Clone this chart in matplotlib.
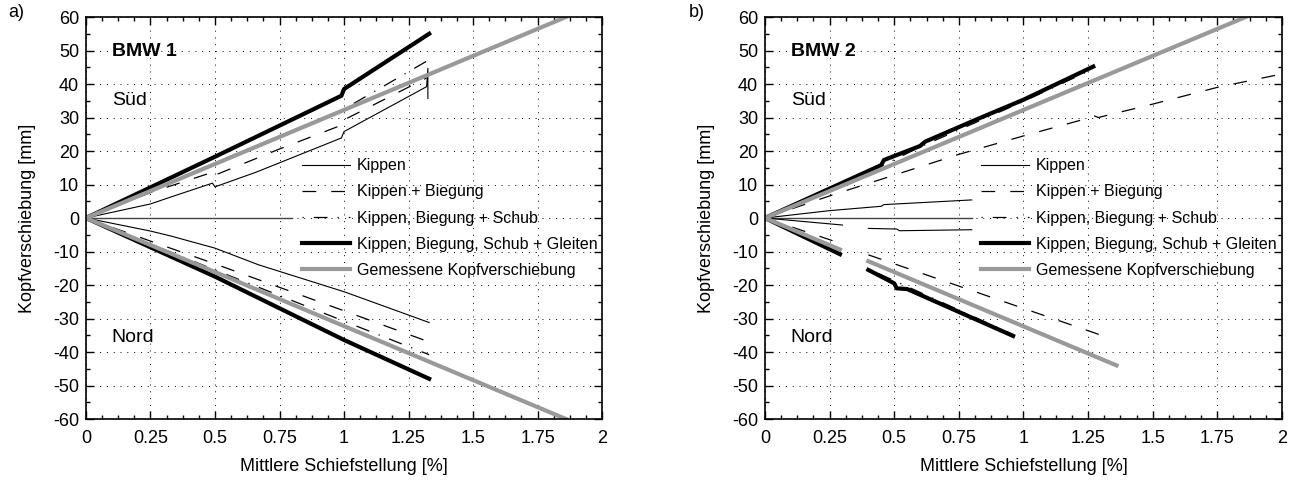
import numpy as np
import matplotlib
matplotlib.use('Agg')
import matplotlib.pyplot as plt
from matplotlib.ticker import MultipleLocator

plt.rcParams['font.family'] = ['Liberation Sans', 'DejaVu Sans']
plt.rcParams['axes.unicode_minus'] = False

nan = np.nan

# Legend labels
labels = ['Kippen', 'Kippen + Biegung', 'Kippen, Biegung + Schub',
          'Kippen, Biegung, Schub + Gleiten', 'Gemessene Kopfverschiebung']
xticks = [0, 0.25, 0.5, 0.75, 1.0, 1.25, 1.5, 1.75, 2.0]
xtick_labels = ['0', '0.25', '0.5', '0.75', '1', '1.25', '1.5', '1.75', '2']
yticks = [-60, -50, -40, -30, -20, -10, 0, 10, 20, 30, 40, 50, 60]

# ---- BMW 1 ----
kip1_sued_x = [0, 0.25, 0.33, 0.49, 0.5, 0.66, 0.99, 1.0, 1.32, 1.325, 1.325]
kip1_sued_y = [0, 4.2, 6.3, 10.4, 9.3, 13.7, 23.9, 25.8, 39.2, 44.7, 35.7]
kip1_nord_x = [0, 0.25, 0.33, 0.5, 0.67, 1.0, 1.33]
kip1_nord_y = [0, -3.9, -5.4, -9.0, -14.0, -22.0, -31.2]

bieg1_sued_x = [0, 0.25, 0.5, 0.5, 0.75, 1.0, 1.0, 1.32]
bieg1_sued_y = [0, 7.6, 13.9, 12.8, 20.6, 28.0, 29.3, 41.8]
bieg1_nord_x = [0, 0.25, 0.5, 1.0, 1.33]
bieg1_nord_y = [0, -6.9, -13.7, -27.7, -37.0]

schub1_sued_x = [0, 0.5, 1.0, 1.32]
schub1_sued_y = [0, 16.5, 32.5, 46.8]
schub1_nord_x = [0, 0.5, 1.0, 1.33]
schub1_nord_y = [0, -15.5, -30.8, -40.8]

gleit1_sued_x = [0, 0.5, 0.99, 1.0, 1.33]
gleit1_sued_y = [0, 18.3, 36.5, 38.5, 55.0]
gleit1_nord_x = [0, 0.5, 1.0, 1.33]
gleit1_nord_y = [0, -17.5, -36.4, -48.0]

mess1_sued_x = [0, 1.86]
mess1_sued_y = [0, 60]
mess1_nord_x = [0, 1.86]
mess1_nord_y = [0, -60]

# ---- BMW 2 ----
kip2_sued_x = [0, 0.25, 0.45, 0.46, 0.8]
kip2_sued_y = [0, 2.2, 3.5, 4.0, 5.4]
kip2_nord_x = [0, 0.3, nan, 0.4, 0.51, 0.52, 0.8]
kip2_nord_y = [0, -2.1, nan, -3.1, -3.3, -3.8, -3.5]

bieg2_sued_x = [0, 0.25, 0.5, 0.75, 1.0, 1.25, 1.27, 1.29, 1.5, 1.75, 2.0]
bieg2_sued_y = [0, 6.6, 12.8, 19.0, 24.5, 29.8, 30.6, 30.0, 34.0, 39.0, 43.0]
bieg2_nord_x = [0, 0.29, nan, 0.4, 1.32]
bieg2_nord_y = [0, -7.5, nan, -11.0, -35.5]

schub2_sued_x = [0, 0.45, 0.6, 1.0, 1.27]
schub2_sued_y = [0, 15.5, 21.2, 34.8, 44.5]
schub2_nord_x = [0, 0.29, nan, 0.4, 0.96]
schub2_nord_y = [0, -10.4, nan, -15.2, -34.8]

gleit2_sued_x = [0, 0.45, 0.46, 0.6, 0.62, 0.83, 1.0, 1.27]
gleit2_sued_y = [0, 15.8, 17.3, 21.5, 22.8, 29.8, 35.3, 45.2]
gleit2_nord_x = [0, 0.29, nan, 0.4, 0.5, 0.51, 0.55, 0.96]
gleit2_nord_y = [0, -10.8, nan, -15.5, -19.5, -21.0, -21.2, -35.2]

mess2_sued_x = [0, 1.86]
mess2_sued_y = [0, 60]
mess2_nord_x = [0, 0.29, nan, 0.4, 1.36]
mess2_nord_y = [0, -9.4, nan, -12.9, -44.0]

null_x = [0, 0.8]
null_y = [0, 0]

styles = [
    dict(color='black', lw=0.8, ls='-'),
    dict(color='black', lw=0.9, ls=(0, (11, 12))),
    dict(color='black', lw=0.9, ls=(0, (1, 8, 11, 8))),
    dict(color='black', lw=3.0, ls='-'),
    dict(color='#999999', lw=3.0, ls='-'),
]


def draw_panel(ax, series, name):
    ax.plot(null_x, null_y, color='#444444', lw=1.0)
    for i, (sx, sy, nx, ny) in enumerate(series):
        ax.plot(sx, sy, **styles[i], label=labels[i])
        ax.plot(nx, ny, **styles[i])

    ax.set_xlim(0, 2)
    ax.set_ylim(-60, 60)
    ax.set_xticks(xticks)
    ax.set_xticklabels(xtick_labels)
    ax.set_yticks(yticks)
    ax.xaxis.set_minor_locator(MultipleLocator(0.0625))
    ax.yaxis.set_minor_locator(MultipleLocator(5))
    ax.tick_params(which='both', direction='in', top=True, right=True,
                   labelsize=13, width=1)
    ax.tick_params(which='major', length=6)
    ax.tick_params(which='minor', length=3)
    ax.tick_params(axis='x', pad=8)
    ax.tick_params(axis='y', pad=5)
    for sp in ax.spines.values():
        sp.set_linewidth(1.2)
    ax.grid(True, which='major', color='black', ls=(0, (1, 6)), lw=0.7)
    ax.set_xlabel('Mittlere Schiefstellung [%]', fontsize=13, labelpad=8)
    ax.set_ylabel('Kopfverschiebung [mm]', fontsize=13, labelpad=12)

    ax.text(0.1, 49.6, name, fontsize=14, fontweight='bold', va='center')
    ax.text(0.1, 35.2, 'Süd', fontsize=14, va='center')
    ax.text(0.1, -35.8, 'Nord', fontsize=14, va='center')

    ax.legend(loc='center left', bbox_to_anchor=(0.418, 0.5), frameon=False,
              fontsize=11.5, handlelength=3.0, handletextpad=0.45,
              labelspacing=0.7, borderpad=0, borderaxespad=0)


fig = plt.figure(figsize=(12.95, 4.82), dpi=100)
ax1 = fig.add_axes([0.0664, 0.1307, 0.3985, 0.834])
ax2 = fig.add_axes([0.5907, 0.1307, 0.3992, 0.834])

draw_panel(ax1, [
    (kip1_sued_x, kip1_sued_y, kip1_nord_x, kip1_nord_y),
    (bieg1_sued_x, bieg1_sued_y, bieg1_nord_x, bieg1_nord_y),
    (schub1_sued_x, schub1_sued_y, schub1_nord_x, schub1_nord_y),
    (gleit1_sued_x, gleit1_sued_y, gleit1_nord_x, gleit1_nord_y),
    (mess1_sued_x, mess1_sued_y, mess1_nord_x, mess1_nord_y),
], 'BMW 1')

draw_panel(ax2, [
    (kip2_sued_x, kip2_sued_y, kip2_nord_x, kip2_nord_y),
    (bieg2_sued_x, bieg2_sued_y, bieg2_nord_x, bieg2_nord_y),
    (schub2_sued_x, schub2_sued_y, schub2_nord_x, schub2_nord_y),
    (gleit2_sued_x, gleit2_sued_y, gleit2_nord_x, gleit2_nord_y),
    (mess2_sued_x, mess2_sued_y, mess2_nord_x, mess2_nord_y),
], 'BMW 2')

fig.text(0.006, 0.975, 'a)', fontsize=13, va='center')
fig.text(0.532, 0.975, 'b)', fontsize=13, va='center')

fig.savefig('out.png', dpi=100)
